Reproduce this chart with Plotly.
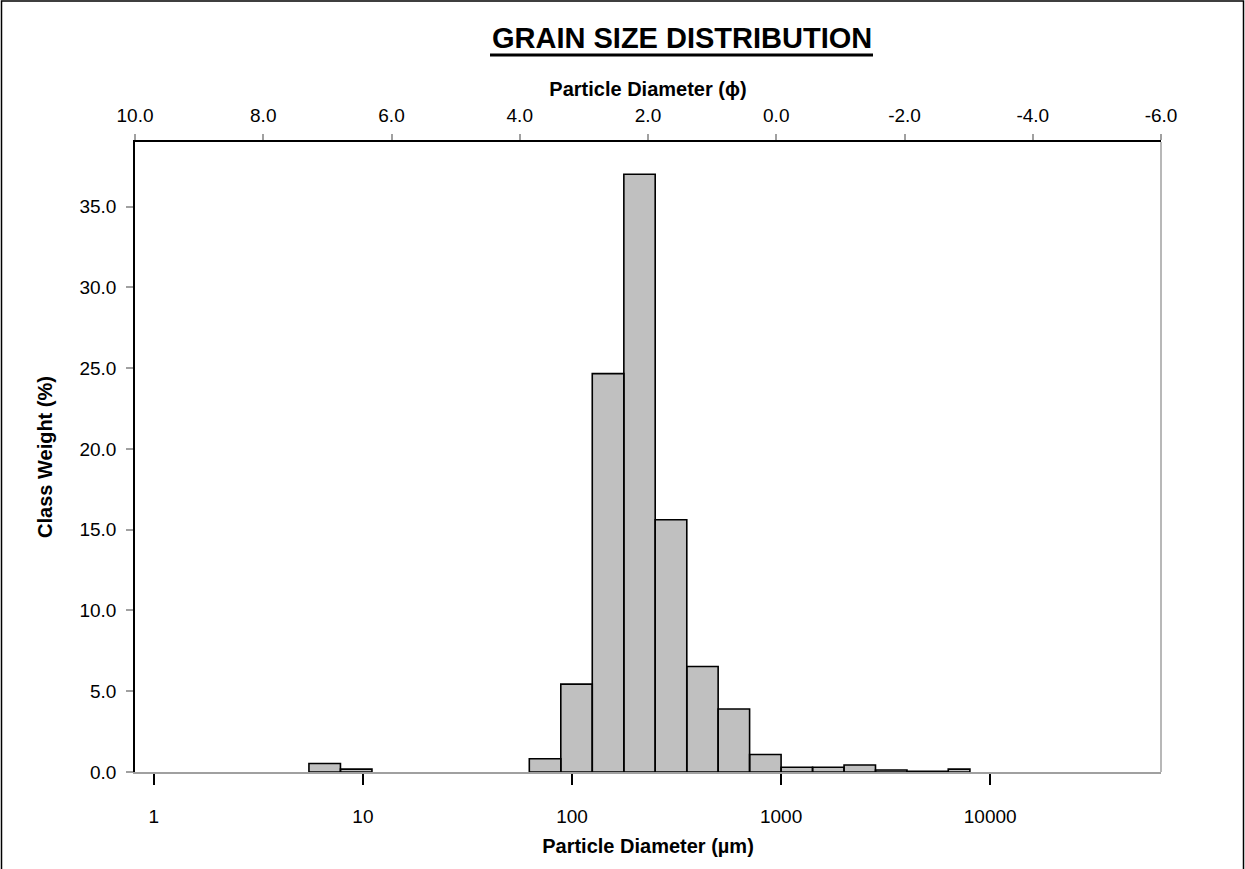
import numpy as np
import plotly.graph_objects as go

# ---- data (half-phi classes, diameters in micrometres) ----
bin_lo_um = [5.52, 7.81, 62.5, 88.4, 125, 177, 250, 354, 500, 707, 1000, 1414, 2000, 2828, 4000, 6300]
bin_hi_um = [7.81, 11.05, 88.4, 125, 177, 250, 354, 500, 707, 1000, 1414, 2000, 2828, 4000, 6300, 8000]
class_weight = [0.53, 0.18, 0.82, 5.44, 24.66, 37.0, 15.62, 6.53, 3.90, 1.08, 0.29, 0.29, 0.43, 0.12, 0.05, 0.18]

um_ticks = [1, 10, 100, 1000, 10000]
um_ticktext = ["1", "10", "100", "1000", "10000"]
phi_ticks = [10, 8, 6, 4, 2, 0, -2, -4, -6]
phi_ticktext = ["10.0", "8.0", "6.0", "4.0", "2.0", "0.0", "-2.0", "-4.0", "-6.0"]
y_ticks = [0, 5, 10, 15, 20, 25, 30, 35]
y_ticktext = ["0.0", "5.0", "10.0", "15.0", "20.0", "25.0", "30.0", "35.0"]

# ---- layout geometry (pixels) ----
W, H = 1245, 869
L, R, T, B = 135, 84, 142, 97
pw, ph = W - L - R, H - T - B

def px_x(px):
    return (px - L) / pw

def px_y(py):
    return (H - B - py) / ph

FONT = "Arial, 'Liberation Sans', sans-serif"

# bars as closed polygons on the log axis
xs, ys = [], []
for lo, hi, v in zip(bin_lo_um, bin_hi_um, class_weight):
    xs += [lo, lo, hi, hi, lo, None]
    ys += [0, v, v, 0, 0, None]

fig = go.Figure()
fig.add_trace(go.Scatter(
    x=xs, y=ys, mode="lines", fill="toself",
    fillcolor="#c0c0c0", line=dict(color="black", width=1.6),
    hoverinfo="skip", showlegend=False,
))
# invisible trace on top (phi) axis so it is drawn
fig.add_trace(go.Scatter(
    x=phi_ticks, y=[0] * len(phi_ticks), xaxis="x2", mode="markers",
    marker=dict(opacity=0), hoverinfo="skip", showlegend=False,
))

fig.update_layout(
    width=W, height=H,
    margin=dict(l=L, r=R, t=T, b=B, pad=0),
    paper_bgcolor="white", plot_bgcolor="white",
    font=dict(family=FONT, color="black", size=19),
    showlegend=False,
    xaxis=dict(
        type="log", range=[np.log10(0.813), np.log10(65600)],
        tickvals=um_ticks, ticktext=um_ticktext,
        ticks="outside", ticklen=11, tickcolor="black", tickwidth=1.5,
        ticklabelstandoff=15,
        showline=True, linecolor="#a0a0a0", linewidth=1.5,
        showgrid=False, zeroline=False,
        tickfont=dict(size=19),
        title=dict(text="<b>Particle Diameter (µm)</b>", font=dict(size=20), standoff=13),
    ),
    xaxis2=dict(
        overlaying="x", side="top", anchor="y",
        range=[10, -6],
        tickvals=phi_ticks, ticktext=phi_ticktext,
        ticks="outside", ticklen=6, tickcolor="#a0a0a0", tickwidth=1.5,
        ticklabelstandoff=5,
        showline=True, linecolor="black", linewidth=1.5,
        showgrid=False, zeroline=False,
        tickfont=dict(size=19),
        title=dict(text="<b>Particle Diameter (ϕ)</b>", font=dict(size=20), standoff=3),
    ),
    yaxis=dict(
        range=[0, 39],
        tickvals=y_ticks, ticktext=y_ticktext,
        ticks="outside", ticklen=7, tickcolor="#a0a0a0", tickwidth=1.5,
        ticklabelstandoff=6,
        showline=True, linecolor="black", linewidth=1.5,
        showgrid=False, zeroline=False,
        tickfont=dict(size=19),
        title=dict(text="<b>Class Weight (%)</b>", font=dict(size=20), standoff=21),
    ),
    shapes=[
        # right border of plot area
        dict(type="line", xref="paper", yref="paper", x0=1, x1=1, y0=0, y1=1,
             line=dict(color="#a0a0a0", width=1.5)),
        # outer chart border
        dict(type="rect", xref="paper", yref="paper",
             x0=px_x(1.5), x1=px_x(1243.5), y0=px_y(875), y1=px_y(1),
             line=dict(color="black", width=1.5), fillcolor="rgba(0,0,0,0)", layer="above"),
        # title underline
        dict(type="line", xref="paper", yref="paper",
             x0=px_x(490), x1=px_x(873), y0=px_y(55), y1=px_y(55),
             line=dict(color="black", width=3)),
    ],
    annotations=[
        dict(text="<b>GRAIN SIZE DISTRIBUTION</b>", xref="paper", yref="paper",
             x=px_x(681.5), y=px_y(38), xanchor="center", yanchor="middle",
             showarrow=False, font=dict(size=29, family=FONT, color="black")),
    ],
)

fig.write_html("out.html", config={"displayModeBar": False},
               post_script="document.body.style.margin='0';")
